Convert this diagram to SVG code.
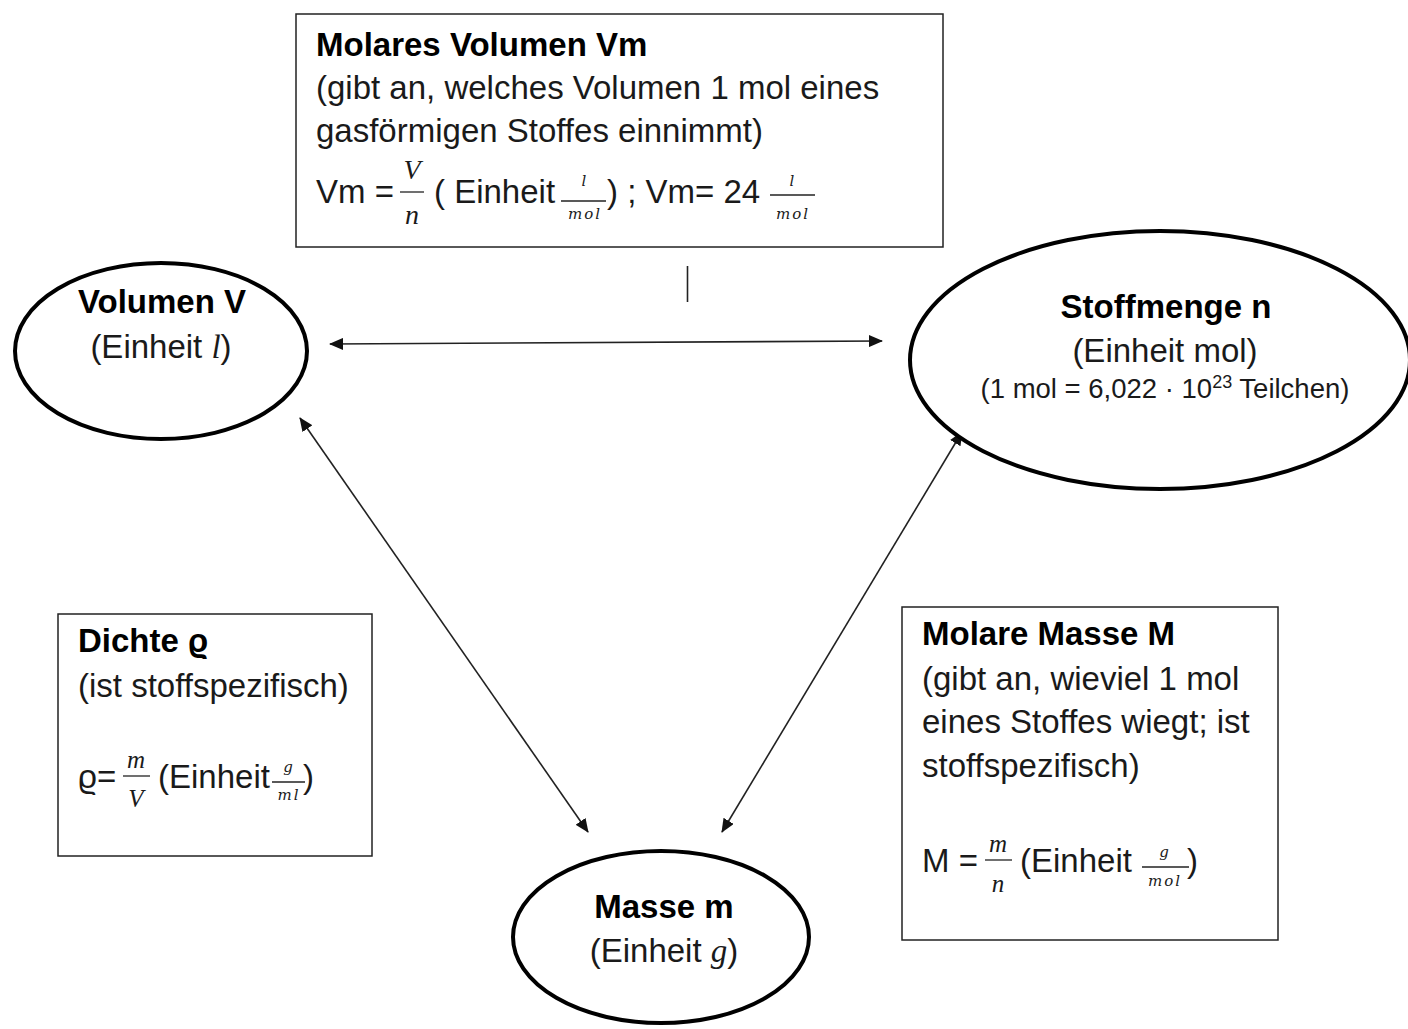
<svg xmlns="http://www.w3.org/2000/svg" width="1408" height="1029" viewBox="0 0 1408 1029">
<style>
text{font-family:"Liberation Sans",Arial,sans-serif;font-size:33px;fill:#1a1a1a}
.b{font-weight:bold;fill:#000}
.m{font-family:"Liberation Serif","Times New Roman",serif;font-style:italic}
.m28{font-size:28px}
.m24{font-size:25px}
.fs{font-family:"DejaVu Serif",serif;font-style:italic;font-size:15px;letter-spacing:2px}
.sm{font-size:27.5px}
.sup{font-size:18px}
.box{fill:#fff;stroke:#222;stroke-width:1.5}
.ell{fill:#fff;stroke:#000;stroke-width:4}
.con{stroke:#222;stroke-width:1.6;fill:none;marker-start:url(#ah);marker-end:url(#ah)}
.fl{stroke:#222;stroke-width:1.3}
</style>
<defs>
<marker id="ah" viewBox="0 0 14 12" refX="13" refY="6" markerWidth="14" markerHeight="12" markerUnits="userSpaceOnUse" orient="auto-start-reverse">
<path d="M0,0 L14,6 L0,12 z" fill="#111"/>
</marker>
</defs>
<rect width="1408" height="1029" fill="#fff"/>

<g id="connectors">
<line class="con" x1="330" y1="344" x2="882" y2="341"/>
<line class="con" x1="300" y1="418" x2="588" y2="832"/>
<line class="con" x1="962" y1="432" x2="722" y2="832"/>
<line x1="687.5" y1="266" x2="687.5" y2="302" stroke="#222" stroke-width="1.6"/>
</g>

<g id="molares-volumen">
<rect class="box" x="296" y="14" width="647" height="233"/>
<text class="b" x="316" y="56">Molares Volumen Vm</text>
<text x="316" y="99">(gibt an, welches Volumen 1 mol eines</text>
<text x="316" y="142">gasförmigen Stoffes einnimmt)</text>
<text x="316" y="203">Vm =</text>
<text class="m m28" x="412" y="179" text-anchor="middle">V</text>
<line class="fl" x1="400" y1="192" x2="424" y2="192"/>
<text class="m m28" x="412" y="224" text-anchor="middle">n</text>
<text x="434" y="203">( Einheit</text>
<text class="fs" x="585" y="186" text-anchor="middle">l</text>
<line class="fl" x1="561" y1="201" x2="606" y2="201"/>
<text class="fs" x="585" y="219" text-anchor="middle">mol</text>
<text x="607" y="203">) ; Vm= 24</text>
<text class="fs" x="793" y="186" text-anchor="middle">l</text>
<line class="fl" x1="770" y1="195" x2="815" y2="195"/>
<text class="fs" x="793" y="219" text-anchor="middle">mol</text>
</g>

<g id="volumen">
<ellipse class="ell" cx="161" cy="351" rx="146" ry="88"/>
<text class="b" x="162" y="313" text-anchor="middle">Volumen V</text>
<text x="161" y="358" text-anchor="middle">(Einheit <tspan class="m">l</tspan>)</text>
</g>

<g id="stoffmenge">
<ellipse class="ell" cx="1160" cy="360" rx="250" ry="129"/>
<text class="b" x="1166" y="318" text-anchor="middle">Stoffmenge n</text>
<text x="1165" y="362" text-anchor="middle">(Einheit mol)</text>
<text class="sm" x="1165" y="398" text-anchor="middle">(1 mol = 6,022 · 10<tspan class="sup" dy="-10">23</tspan><tspan class="sm" dy="10"> Teilchen)</tspan></text>
</g>

<g id="masse">
<ellipse class="ell" cx="661" cy="937" rx="148" ry="86"/>
<text class="b" x="664" y="918" text-anchor="middle">Masse m</text>
<text x="664" y="962" text-anchor="middle">(Einheit <tspan class="m">g</tspan>)</text>
</g>

<g id="dichte">
<rect class="box" x="58" y="614" width="314" height="242"/>
<text class="b" x="78" y="652">Dichte ϱ</text>
<text x="78" y="697">(ist stoffspezifisch)</text>
<text x="78" y="788">ϱ=</text>
<text class="m m24" x="136" y="768" text-anchor="middle">m</text>
<line class="fl" x1="123" y1="776" x2="150" y2="776"/>
<text class="m m24" x="136" y="807" text-anchor="middle">V</text>
<text x="158" y="788">(Einheit</text>
<text class="fs" x="289" y="772" text-anchor="middle">g</text>
<line class="fl" x1="272" y1="782" x2="305" y2="782"/>
<text class="fs" x="289" y="800" text-anchor="middle">ml</text>
<text x="303" y="788">)</text>
</g>

<g id="molare-masse">
<rect class="box" x="902" y="607" width="376" height="333"/>
<text class="b" x="922" y="645">Molare Masse M</text>
<text x="922" y="690">(gibt an, wieviel 1 mol</text>
<text x="922" y="733">eines Stoffes wiegt; ist</text>
<text x="922" y="777">stoffspezifisch)</text>
<text x="922" y="872">M =</text>
<text class="m m24" x="998" y="852" text-anchor="middle">m</text>
<line class="fl" x1="985" y1="860" x2="1012" y2="860"/>
<text class="m m24" x="998" y="892" text-anchor="middle">n</text>
<text x="1020" y="872">(Einheit</text>
<text class="fs" x="1165" y="857" text-anchor="middle">g</text>
<line class="fl" x1="1142" y1="867" x2="1189" y2="867"/>
<text class="fs" x="1165" y="886" text-anchor="middle">mol</text>
<text x="1187" y="872">)</text>
</g>
</svg>
